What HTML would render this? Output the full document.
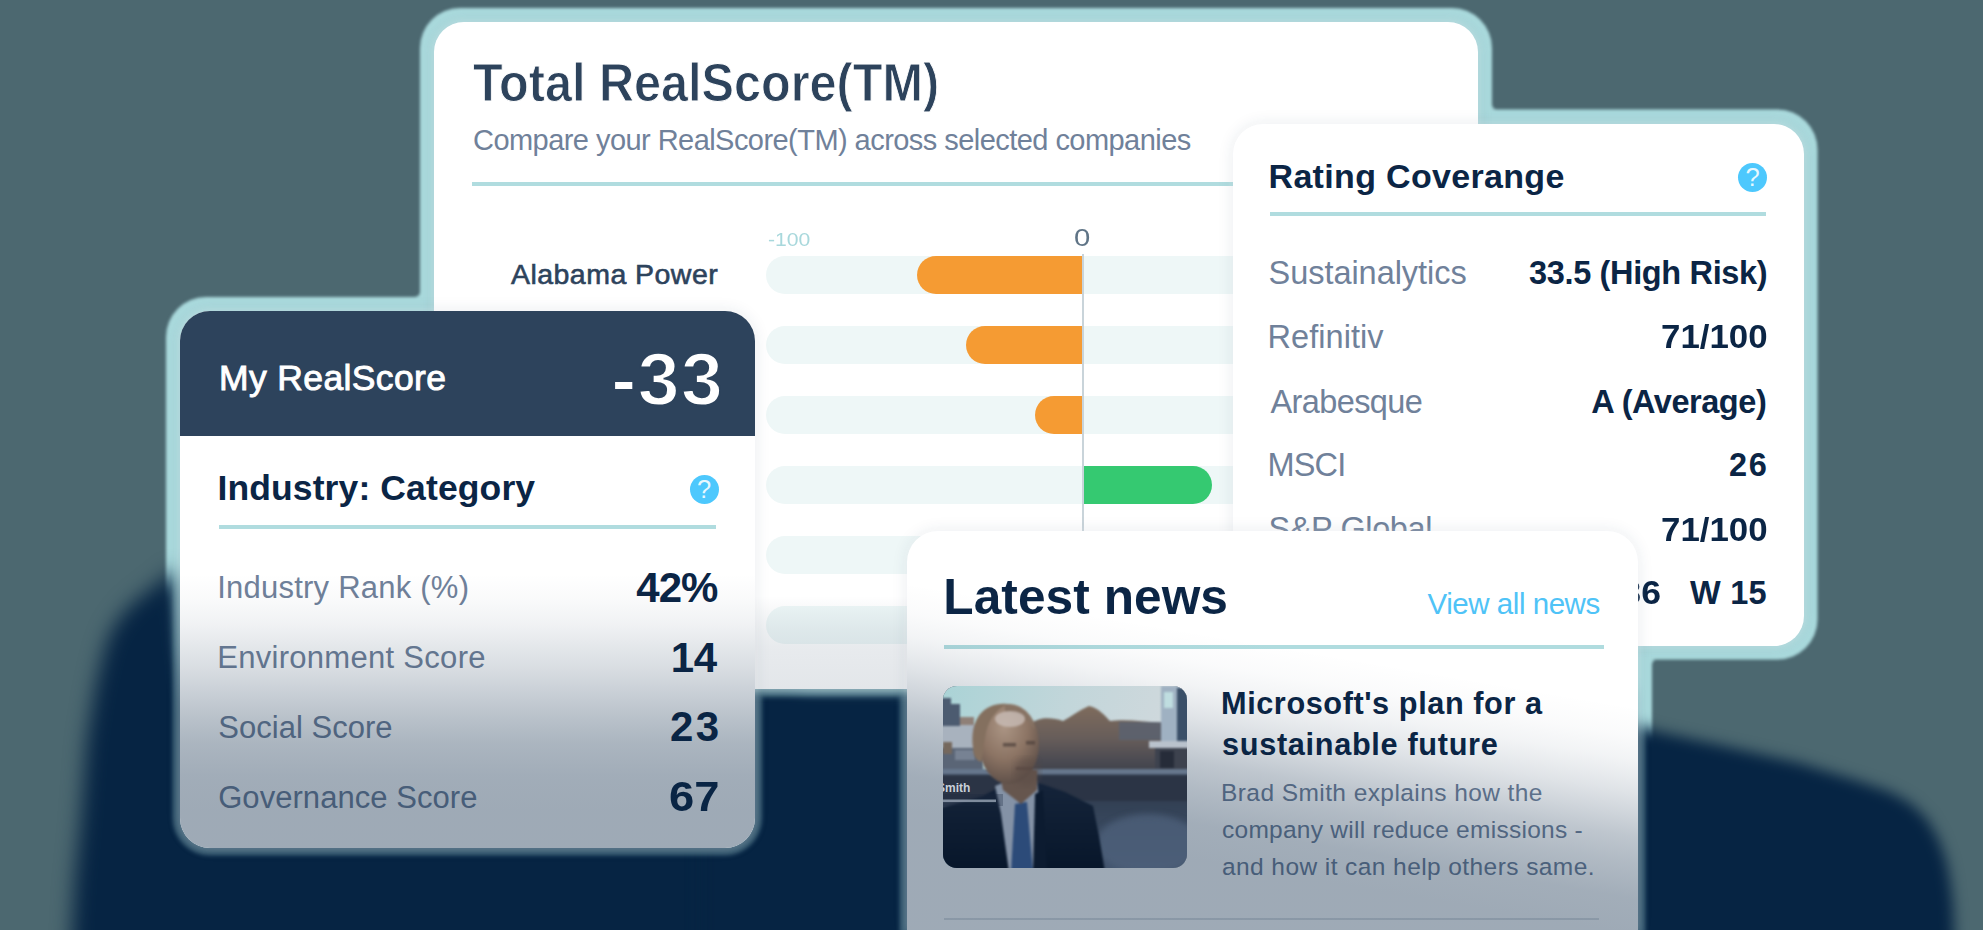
<!DOCTYPE html>
<html><head><meta charset="utf-8"><title>RealScore dashboard</title>
<style>
html,body{margin:0;padding:0;overflow:hidden}
html{width:1983px;height:930px}
body{width:1983px;height:930px;overflow:hidden;background:#4c6870;position:relative;font-family:"Liberation Sans",sans-serif}
.layer{position:absolute;left:0;top:0;width:1983px;height:930px}
.card{position:absolute;background:#fff;box-shadow:0 0 7px 2px rgba(255,255,255,.22),0 0 16px rgba(30,60,90,.10)}
.clip{position:absolute;left:0;top:0;right:0;bottom:0;overflow:hidden;border-radius:inherit}
.t{position:absolute;white-space:pre;line-height:1;transform-origin:0 50%}
.hr{position:absolute;height:4px;background:#b0dcdf}
.track{position:absolute;left:332px;width:760px;height:37.8px;border-radius:19px;background:#eef7f7}
.bar{position:absolute;height:37.8px}
.q{position:absolute;width:29px;height:29px;border-radius:50%;background:#4dc8fd;color:rgba(255,255,255,.88);font-weight:400;font-size:25.5px;line-height:29.5px;text-align:center}
.tint{position:absolute;left:0;top:0;right:0;bottom:0;border-radius:inherit;pointer-events:none}
</style></head><body>

<svg class="layer" width="1983" height="930" viewBox="0 0 1983 930">
<defs><filter id="ob" color-interpolation-filters="sRGB" x="-3%" y="-3%" width="106%" height="106%"><feGaussianBlur stdDeviation="1.7"/></filter></defs>
<g fill="#aadadd" filter="url(#ob)">
<rect x="420" y="8" width="1072" height="695" rx="40"/>
<rect x="1219" y="109.5" width="598.5" height="550" rx="40"/>
<rect x="166" y="297" width="602.5" height="565" rx="40"/>
<rect x="893" y="517" width="759" height="488" rx="41"/>
<path d="M415 297 L420 297 L420 292 A5 5 0 0 1 415 297Z"/>
<path d="M1492 104.5 L1492 109.5 L1497 109.5 A5 5 0 0 1 1492 104.5Z"/>
<path d="M1652 664.5 L1652 659.5 L1657 659.5 A5 5 0 0 0 1652 664.5Z"/>
</g>
<defs><filter id="bl" color-interpolation-filters="sRGB" x="-10%" y="-20%" width="120%" height="140%"><feGaussianBlur stdDeviation="10"/></filter><filter id="br" color-interpolation-filters="sRGB" x="-10%" y="-20%" width="120%" height="140%"><feGaussianBlur stdDeviation="7"/></filter></defs>
<path filter="url(#bl)" fill="#062443" d="M177 568 L160 582 L142 596 L129 607 L119 619 L111 632 L105 648 L100 668 L95 690 L91 715 L87 740 L81 820 L75 880 L69 990 L800 990 L800 700 L195 700 L184 650 Z"/>
<path filter="url(#br)" fill="#062443" d="M700 690 L700 980 L1956 980 L1953 905 L1950 880 L1946 860 L1938 838 L1926 818 L1910 803 L1890 792 L1858 781 L1799 763 L1719 745 L1655 731 L1630 722 L1630 690 Z"/>
<filter id="gl" color-interpolation-filters="sRGB" x="-5%" y="-5%" width="110%" height="110%"><feGaussianBlur stdDeviation="2.2"/></filter>
<g fill="#aadadd" opacity="0.31" filter="url(#gl)">
<rect x="426.5" y="14.5" width="1059.0" height="682.0" rx="37.5"/>
<rect x="1225.5" y="116.0" width="585.5" height="537.0" rx="37.5"/>
<rect x="172.5" y="303.5" width="589.5" height="552.0" rx="37.5"/>
<rect x="899.5" y="523.5" width="746.0" height="475.0" rx="38.5"/>
</g>
</svg>
<div class="card" id="total" style="left:434px;top:22px;width:1044px;height:667px;border-radius:30px"><div class="clip">
<div class="hr" style="left:38px;top:160px;width:800px"></div>
<div class="track" style="top:233.8px"></div>
<div class="track" style="top:303.8px"></div>
<div class="track" style="top:373.8px"></div>
<div class="track" style="top:443.8px"></div>
<div class="track" style="top:513.8px"></div>
<div class="track" style="top:583.8px"></div>
<div style="position:absolute;left:647.5px;top:232px;width:2.4px;height:300px;background:#c9d4da"></div>
<div class="bar" style="left:482.5px;top:233.8px;width:165.5px;background:#f59b33;border-radius:19px 0 0 19px"></div>
<div class="bar" style="left:531.5px;top:303.8px;width:116.5px;background:#f59b33;border-radius:19px 0 0 19px"></div>
<div class="bar" style="left:601px;top:373.8px;width:47px;background:#f59b33;border-radius:19px 0 0 19px"></div>
<div class="bar" style="left:649.5px;top:443.8px;width:128.5px;background:#35c971;border-radius:0 19px 19px 0"></div>
<span class="t" style="left:39.1px;top:33.5px;font-size:53px;font-weight:700;color:#2d435c;transform:scaleX(0.9167);-webkit-text-stroke:0.9px #ffffff;">Total RealScore(TM)</span>
<span class="t" style="left:39.0px;top:104.4px;font-size:29px;font-weight:400;color:#70819a;letter-spacing:-0.549px;">Compare your RealScore(TM) across selected companies</span>
<span class="t" style="left:77.0px;top:238.3px;font-size:28.5px;font-weight:400;color:#2d435c;letter-spacing:0.458px;-webkit-text-stroke:0.6px #2d435c;">Alabama Power</span>
<span class="t" style="left:333.8px;top:209.2px;font-size:18px;font-weight:400;color:#a8d8dc;transform:scaleX(1.1765);">-100</span>
<span class="t" style="left:640.2px;top:204.9px;font-size:23px;font-weight:400;color:#5f7486;transform:scaleX(1.2727);">0</span>
<div class="tint" style="background:linear-gradient(to bottom,rgba(6,36,67,0) 574px,rgba(6,36,67,0.035) 590px,rgba(6,36,67,0.07) 608px,rgba(6,36,67,0.095) 626px,rgba(6,36,67,0.115) 668px)"></div>

</div></div>
<div class="card" id="rating" style="left:1233px;top:123.5px;width:570.5px;height:522px;border-radius:30px"><div class="clip">
<div class="hr" style="left:37px;top:88.5px;width:495.5px"></div>
<div class="q" style="left:505.0px;top:39.5px">?</div>
<span class="t" style="left:35.5px;top:35.8px;font-size:34px;font-weight:700;color:#0b2545;letter-spacing:0.327px;">Rating Coverange</span>
<span class="t" style="left:35.5px;top:133.4px;font-size:32.5px;font-weight:400;color:#70819a;letter-spacing:-0.038px;">Sustainalytics</span>
<span class="t" style="left:296.0px;top:133.4px;font-size:32.5px;font-weight:700;color:#0b2545;letter-spacing:-0.347px;">33.5 (High Risk)</span>
<span class="t" style="left:34.5px;top:197.7px;font-size:32.5px;font-weight:400;color:#70819a;letter-spacing:0.062px;">Refinitiv</span>
<span class="t" style="left:427.6px;top:197.7px;font-size:32.5px;font-weight:700;color:#0b2545;transform:scaleX(1.0722);">71/100</span>
<span class="t" style="left:37.5px;top:262.1px;font-size:32.5px;font-weight:400;color:#70819a;letter-spacing:-0.600px;">Arabesque</span>
<span class="t" style="left:358.3px;top:262.1px;font-size:32.5px;font-weight:700;color:#0b2545;letter-spacing:-0.460px;">A (Average)</span>
<span class="t" style="left:34.5px;top:325.4px;font-size:32.5px;font-weight:400;color:#70819a;letter-spacing:-0.833px;">MSCI</span>
<span class="t" style="left:496.0px;top:325.4px;font-size:32.5px;font-weight:700;color:#0b2545;letter-spacing:1.700px;">26</span>
<span class="t" style="left:35.5px;top:389.4px;font-size:32.5px;font-weight:400;color:#70819a;letter-spacing:-0.389px;">S&amp;P Global</span>
<span class="t" style="left:427.6px;top:390.1px;font-size:32.5px;font-weight:700;color:#0b2545;transform:scaleX(1.0722);">71/100</span>
<span class="t" style="left:457.0px;top:453.4px;font-size:32.5px;font-weight:700;color:#0b2545;letter-spacing:0.233px;">W 15</span>
<span class="t" style="left:354.8px;top:453.4px;font-size:32.5px;font-weight:700;color:#0b2545;transform:scaleX(1.0938);">E 36</span>
<div class="tint" style="background:linear-gradient(to bottom,rgba(6,36,67,0) 436px,rgba(6,36,67,0.0) 576px)"></div>

</div></div>
<div class="card" id="left" style="left:180px;top:311px;width:574.5px;height:537px;border-radius:30px"><div class="clip">
<div style="position:absolute;left:0;top:0;width:100%;height:125px;background:#2d435c"></div>
<div class="hr" style="left:39px;top:214px;width:497px;height:3.5px"></div>
<div class="q" style="left:509.5px;top:163.5px">?</div>
<span class="t" style="left:39.0px;top:49.6px;font-size:35.5px;font-weight:400;color:#ffffff;letter-spacing:0.364px;-webkit-text-stroke:0.9px #ffffff;">My RealScore</span>
<span class="t" style="left:431.3px;top:30.7px;font-size:75px;font-weight:700;color:#ffffff;letter-spacing:1.550px;-webkit-text-stroke:1.8px #2d435c;">-33</span>
<span class="t" style="left:37.4px;top:160.3px;font-size:35.5px;font-weight:700;color:#0b2545;letter-spacing:0.124px;">Industry: Category</span>
<span class="t" style="left:37.2px;top:261.0px;font-size:31px;font-weight:400;color:#70819a;letter-spacing:0.231px;">Industry Rank (%)</span>
<span class="t" style="left:456.2px;top:255.9px;font-size:42px;font-weight:700;color:#0b2545;letter-spacing:-0.900px;">42%</span>
<span class="t" style="left:37.2px;top:330.9px;font-size:31px;font-weight:400;color:#70819a;letter-spacing:0.294px;">Environment Score</span>
<span class="t" style="left:490.7px;top:325.8px;font-size:42px;font-weight:700;color:#0b2545;letter-spacing:-0.300px;">14</span>
<span class="t" style="left:38.2px;top:400.9px;font-size:31px;font-weight:400;color:#70819a;letter-spacing:0.036px;">Social Score</span>
<span class="t" style="left:490.0px;top:395.4px;font-size:42px;font-weight:700;color:#0b2545;letter-spacing:2.400px;">23</span>
<span class="t" style="left:38.2px;top:471.2px;font-size:31px;font-weight:400;color:#70819a;letter-spacing:0.053px;">Governance Score</span>
<span class="t" style="left:488.8px;top:465.3px;font-size:42px;font-weight:700;color:#0b2545;transform:scaleX(1.0791);">67</span>
<div class="tint" style="background:linear-gradient(to bottom,rgba(6,36,67,0) 263px,rgba(6,36,67,0.025) 289px,rgba(6,36,67,0.06) 313px,rgba(6,36,67,0.108) 336px,rgba(6,36,67,0.15) 355px,rgba(6,36,67,0.225) 384px,rgba(6,36,67,0.285) 409px,rgba(6,36,67,0.337) 432px,rgba(6,36,67,0.375) 465px,rgba(6,36,67,0.388) 499px,rgba(6,36,67,0.39) 523px,rgba(6,36,67,0.39) 689px)"></div>

</div></div>
<div class="card" id="news" style="left:907px;top:531px;width:731px;height:399px;border-radius:31px 31px 0 0"><div class="clip">
<div class="hr" style="left:36.5px;top:114px;width:660.5px"></div>
<div style="position:absolute;left:36.5px;top:387px;width:655.5px;height:2px;background:rgba(45,67,92,.16)"></div>
<span class="t" style="left:36.3px;top:42.0px;font-size:49.6px;font-weight:700;color:#0b2545;letter-spacing:0.070px;">Latest news</span>
<span class="t" style="left:520.6px;top:58.1px;font-size:29.5px;font-weight:400;color:#4fc3f7;letter-spacing:-0.467px;">View all news</span>
<span class="t" style="left:314.0px;top:158.4px;font-size:30.7px;font-weight:700;color:#0b2545;letter-spacing:0.571px;">Microsoft&#x27;s plan for a</span>
<span class="t" style="left:315.0px;top:199.2px;font-size:30.7px;font-weight:700;color:#0b2545;letter-spacing:0.676px;">sustainable future</span>
<span class="t" style="left:314.0px;top:250.2px;font-size:24.5px;font-weight:400;color:#70819a;letter-spacing:0.423px;">Brad Smith explains how the</span>
<span class="t" style="left:315.0px;top:287.2px;font-size:24.5px;font-weight:400;color:#70819a;letter-spacing:0.267px;">company will reduce emissions -</span>
<span class="t" style="left:315.0px;top:324.2px;font-size:24.5px;font-weight:400;color:#70819a;letter-spacing:0.419px;">and how it can help others same.</span>
<div class="tint" style="background:linear-gradient(189.65deg,rgba(6,36,67,0) 173px,rgba(6,36,67,0.02) 203px,rgba(6,36,67,0.05) 226px,rgba(6,36,67,0.085) 242px,rgba(6,36,67,0.125) 258px,rgba(6,36,67,0.185) 278px,rgba(6,36,67,0.257) 302px,rgba(6,36,67,0.315) 328px,rgba(6,36,67,0.373) 363px,rgba(6,36,67,0.388) 398px,rgba(6,36,67,0.39) 428px)"></div>
<div id="photo" style="position:absolute;left:36.299999999999955px;top:155px;width:244px;height:182px;border-radius:14px;overflow:hidden;background:#3a4a5c"><svg width="244" height="182" viewBox="0 0 244 182" style="display:block">
<defs>
<linearGradient id="sky" x1="0" y1="0" x2="1" y2="0.25"><stop offset="0" stop-color="#aad3d6"/><stop offset="0.5" stop-color="#c2d6da"/><stop offset="1" stop-color="#d2d9dd"/></linearGradient>
<linearGradient id="wat" x1="0" y1="0" x2="0" y2="1"><stop offset="0" stop-color="#2d3748"/><stop offset="0.4" stop-color="#354459"/><stop offset="1" stop-color="#44566f"/></linearGradient>
<linearGradient id="suit" x1="0" y1="0" x2="0" y2="1"><stop offset="0" stop-color="#15243a"/><stop offset="1" stop-color="#07162a"/></linearGradient>
<linearGradient id="tree" x1="0" y1="0" x2="0" y2="1"><stop offset="0" stop-color="#7f6c5d"/><stop offset="0.45" stop-color="#675d5a"/><stop offset="0.75" stop-color="#4c4b52"/><stop offset="1" stop-color="#3a3e48"/></linearGradient>
<radialGradient id="face" cx="0.42" cy="0.28" r="0.8"><stop offset="0" stop-color="#ab9584"/><stop offset="0.5" stop-color="#8c7464"/><stop offset="1" stop-color="#554843"/></radialGradient>
<filter id="pb" color-interpolation-filters="sRGB" x="-5%" y="-5%" width="110%" height="110%"><feGaussianBlur stdDeviation="1.2"/></filter>
<filter id="pb2" color-interpolation-filters="sRGB" x="-10%" y="-10%" width="120%" height="120%"><feGaussianBlur stdDeviation="3"/></filter>
</defs>
<rect width="244" height="182" fill="url(#sky)"/>
<g filter="url(#pb)">
<rect x="-2" y="38" width="46" height="30" fill="#a8b2be"/>
<path d="M-2 12 L8 12 L8 18 L17 18 L17 40 L-2 40Z" fill="#4c5b70"/>
<rect x="17" y="31" width="14" height="8" fill="#8f8078"/>
<rect x="-2" y="62" width="42" height="24" fill="#5a6576"/>
<rect x="0" y="56" width="9" height="12" fill="#75685d"/>
<rect x="12" y="64" width="20" height="10" fill="#8b96a6" opacity=".6"/>
<path d="M84 42 C92 30 108 31 120 35 C128 31 136 24 146 20 C156 22 162 30 167 35 C180 33 200 35 218 37 L222 92 L84 92Z" fill="url(#tree)"/>
<rect x="176" y="36" width="44" height="18" fill="#5b6170" opacity=".85"/>
<rect x="218" y="0" width="20" height="58" fill="#9fb1c2"/>
<rect x="234" y="2" width="12" height="56" fill="#3a4f68"/>
<rect x="221" y="6" width="9" height="16" fill="#bfdde0"/>
<rect x="206" y="55" width="40" height="7" fill="#b9c2cc"/>
<rect x="212" y="62" width="34" height="24" fill="#3d424e"/>
<rect x="217" y="65" width="14" height="17" fill="#262c39"/>
<rect x="-2" y="88" width="250" height="100" fill="url(#wat)"/>
<rect x="-2" y="83" width="250" height="5.5" fill="#66778d"/>
<rect x="-2" y="91" width="250" height="24" fill="#2b3445"/>
</g>
<ellipse cx="205" cy="158" rx="52" ry="30" fill="#4f627c" opacity=".75" filter="url(#pb2)"/>
<g filter="url(#pb)">
<path d="M-2 122 L40 110 L58 100 L96 97 L122 106 L150 120 L156 150 L162 186 L-2 186Z" fill="url(#suit)"/>
<path d="M52 100 L62 96 L94 94 L96 112 L92 186 L66 186 L58 128Z" fill="#8492a6"/>
<path d="M92 108 L100 104 L104 186 L90 186Z" fill="#0c1b30"/>
<path d="M72 118 L84 116 L90 186 L68 186Z" fill="#2c4b79"/>
<path d="M56 84 L94 84 L94 104 L78 118 L60 104Z" fill="#66564e"/>
<ellipse cx="66" cy="58" rx="30" ry="40" fill="url(#face)"/>
<path d="M30 62 C26 30 44 16 64 18 C52 24 44 36 42 52 C40 62 40 70 38 76 C32 74 30 68 30 62Z" fill="#84705f"/>
<path d="M62 18 C78 18 90 28 92 44 C84 32 74 26 62 26Z" fill="#877364"/>
<ellipse cx="67" cy="33" rx="15" ry="8" fill="#c8bcb5" opacity=".8"/>
<rect x="60" y="57" width="13" height="3.5" fill="#4f413c" opacity=".75"/>
<rect x="83" y="55" width="9" height="3.5" fill="#4f413c" opacity=".75"/>
<rect x="73" y="81" width="17" height="3" fill="#57443e" opacity=".7"/>
</g>
<ellipse cx="84" cy="86" rx="13" ry="14" fill="#5a4b45" opacity=".45" filter="url(#pb2)"/>
<rect x="0" y="108" width="60" height="12" fill="#1a2740" opacity=".3"/>
<text x="-6" y="105.5" font-family="Liberation Sans, sans-serif" font-weight="700" font-size="12" fill="#c9d0da">Smith</text>
<rect x="0" y="113.5" width="53" height="2.6" fill="#9aa6b6" opacity=".8"/>
</svg>
</div>
</div></div>
</body></html>
